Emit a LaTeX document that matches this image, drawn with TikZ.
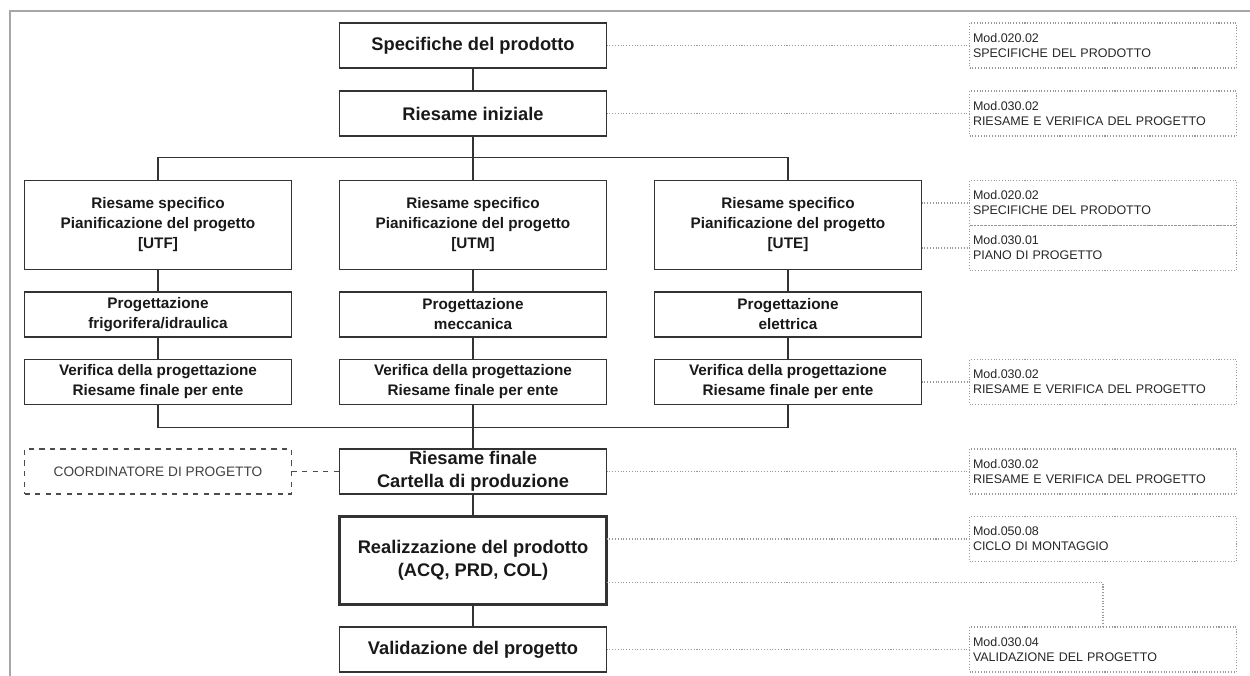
\documentclass[tikz,border=0pt]{standalone}
\usepackage{fontspec}
\setmainfont{Liberation Sans}
\usetikzlibrary{positioning}

\begin{document}
\begin{tikzpicture}[
    node distance=0.45cm and 0.96cm,
    box/.style={
        rectangle,
        draw=black!80,
        line width=0.8pt,
        text=black!90,
        minimum width=5.34cm,
        minimum height=0.9cm,
        inner sep=1pt,
        outer sep=0pt,
        align=center,
        font=\fontsize{10.4}{13.3}\selectfont\bfseries
    },
    unit/.style={
        box,
        font=\fontsize{8.7}{11.4}\selectfont\bfseries
    },
    doc/.style={
        rectangle,
        draw=gray!80,
        densely dotted,
        line width=0.6pt,
        text=black!85,
        minimum height=0.9cm,
        text width=5.2cm,
        inner xsep=0.07cm,
        inner ysep=1pt,
        outer sep=0pt,
        align=left,
        font=\fontsize{7.1}{8.5}\selectfont
    },
    link/.style={
        draw=black!80,
        line width=0.8pt
    },
    doclink/.style={
        draw=gray!80,
        densely dotted,
        line width=0.6pt
    }
]
\useasboundingbox (0,0) rectangle (25,-13.52);

% Frame
\draw[gray!70, line width=1.1pt] (0.2,-13.52) -- (0.2,-0.22) -- (25,-0.22);

% Main column, top
\node[box] (spec) at (9.46,-0.91) {Specifiche del prodotto};
\node[box, below=0.46cm of spec] (riesame) {Riesame iniziale};

% Units
\node[unit, minimum height=1.78cm, below=0.89cm of riesame] (rsutm) {Riesame specifico\\Pianificazione del progetto\\{}[UTM]};
\node[unit, minimum height=1.78cm, left=of rsutm] (rsutf) {Riesame specifico\\Pianificazione del progetto\\{}[UTF]};
\node[unit, minimum height=1.78cm, right=of rsutm] (rsute) {Riesame specifico\\Pianificazione del progetto\\{}[UTE]};

\node[unit, below=of rsutf] (progutf) {Progettazione\\frigorifera/idraulica};
\node[unit, below=of rsutm] (progutm) {Progettazione\\meccanica};
\node[unit, below=of rsute] (progute) {Progettazione\\elettrica};

\node[unit, below=of progutf] (verutf) {Verifica della progettazione\\Riesame finale per ente};
\node[unit, below=of progutm] (verutm) {Verifica della progettazione\\Riesame finale per ente};
\node[unit, below=of progute] (verute) {Verifica della progettazione\\Riesame finale per ente};

% Main column, bottom
\node[box, below=0.89cm of verutm] (finale) {Riesame finale\\Cartella di produzione};
\node[box, line width=1.7pt, minimum height=1.76cm, below=of finale] (realizz) {Realizzazione del prodotto\\(ACQ, PRD, COL)};
\node[box, below=of realizz] (valid) {Validazione del progetto};

\node[box, draw=black!70, dashed, font=\fontsize{7.8}{9}\selectfont, text=black!75, left=of finale] (coord) {COORDINATORE DI PROGETTO};

% Documents
\node[doc, right=7.26cm of spec] (modspec) {Mod.020.02\\SPECIFICHE DEL PRODOTTO};
\node[doc, right=7.26cm of riesame] (modries) {Mod.030.02\\RIESAME E VERIFICA DEL PROGETTO};
\node[doc, below right=0cm and 0.96cm of rsute.north east] (modspecute) {Mod.020.02\\SPECIFICHE DEL PRODOTTO};
\node[doc, below=0cm of modspecute] (modpiano) {Mod.030.01\\PIANO DI PROGETTO};
\node[doc, right=of verute] (modver) {Mod.030.02\\RIESAME E VERIFICA DEL PROGETTO};
\node[doc, right=7.26cm of finale] (modfin) {Mod.030.02\\RIESAME E VERIFICA DEL PROGETTO};
\node[doc, below right=0cm and 7.26cm of realizz.north east] (modciclo) {Mod.050.08\\CICLO DI MONTAGGIO};
\node[doc, right=7.26cm of valid] (modvalid) {Mod.030.04\\VALIDAZIONE DEL PROGETTO};

% Flow
\draw[link] (spec) -- (riesame);
\draw[link] (riesame) -- (rsutm);
\draw[link] (rsutf.north) -- ++(0,0.46) -| (rsute.north);
\draw[link] (rsutf) -- (progutf);
\draw[link] (rsutm) -- (progutm);
\draw[link] (rsute) -- (progute);
\draw[link] (progutf) -- (verutf);
\draw[link] (progutm) -- (verutm);
\draw[link] (progute) -- (verute);
\draw[link] (verutf.south) -- ++(0,-0.46) -| (verute.south);
\draw[link] (verutm) -- (finale);
\draw[link] (finale) -- (realizz);
\draw[link] (realizz) -- (valid);

\draw[draw=black!70, dashed, line width=0.8pt] (coord) -- (finale);

% Document links
\draw[doclink] (spec) -- (modspec);
\draw[doclink] (riesame) -- (modries);
\draw[doclink] (modspecute.west -| rsute.east) -- (modspecute.west);
\draw[doclink] (modpiano.west -| rsute.east) -- (modpiano.west);
\draw[doclink] (verute) -- (modver);
\draw[doclink] (finale) -- (modfin);
\draw[doclink] (modciclo.west -| realizz.east) -- (modciclo.west);
\draw[doclink] ([yshift=0.44cm]realizz.south east) -| (modvalid.north);
\draw[doclink] (valid) -- (modvalid);

\end{tikzpicture}
\end{document}
